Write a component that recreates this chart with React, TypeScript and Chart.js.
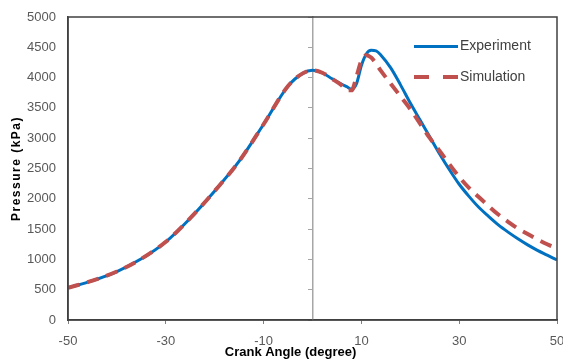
import React, { useEffect, useRef } from 'react';
import { Chart, registerables } from 'chart.js';

Chart.register(...registerables);

const angles = [-50, -45, -40, -35, -30, -25, -20, -15, -10, -5, -2, 0, 2, 4, 6, 7, 8, 9, 10, 11, 12, 13, 14, 16, 18, 20, 22, 24, 26, 28, 30, 32, 34, 36, 38, 40, 42, 44, 46, 48, 50];
const experiment = [530, 650, 800, 1010, 1290, 1680, 2130, 2620, 3230, 3860, 4070, 4120, 4080, 3980, 3890, 3850, 3810, 3900, 4200, 4390, 4450, 4440, 4370, 4160, 3880, 3580, 3300, 3020, 2740, 2480, 2240, 2040, 1860, 1710, 1570, 1450, 1340, 1240, 1150, 1070, 990];
const simulation = [530, 650, 800, 1010, 1290, 1680, 2130, 2620, 3230, 3860, 4070, 4120, 4080, 3980, 3870, 3790, 3790, 4020, 4280, 4370, 4330, 4230, 4110, 3900, 3690, 3480, 3240, 3000, 2790, 2570, 2360, 2180, 2030, 1880, 1740, 1620, 1510, 1420, 1330, 1250, 1180];
const xTickValues = [-50, -30, -10, 10, 30, 50];
const seriesNames = ['Experiment', 'Simulation'];
const xTitle = 'Crank Angle (degree)';
const yTitle = 'Pressure (kPa)';

const FONT = "'Liberation Sans', Arial, sans-serif";

const framePlugin = {
  id: 'frame',
  afterDatasetsDraw(chart: any) {
    const { ctx, chartArea: ca } = chart;
    ctx.save();
    ctx.strokeStyle = '#404040';
    ctx.lineWidth = 1.5;
    ctx.strokeRect(ca.left, ca.top, ca.right - ca.left, ca.bottom - ca.top);
    ctx.restore();
  },
};

const legendPlugin = {
  id: 'customLegend',
  afterDraw(chart: any) {
    const { ctx, chartArea: ca } = chart;
    const ds = chart.data.datasets;
    const rows = [46.5, 77];
    ctx.save();
    ds.forEach((d: any, i: number) => {
      const y = rows[i];
      ctx.beginPath();
      ctx.strokeStyle = d.borderColor;
      ctx.lineWidth = d.borderWidth;
      ctx.setLineDash(i === 1 ? [15, 14] : []);
      ctx.moveTo(414, y);
      ctx.lineTo(458, y);
      ctx.stroke();
      ctx.setLineDash([]);
      ctx.fillStyle = '#404040';
      ctx.font = `14px ${FONT}`;
      ctx.textBaseline = 'middle';
      ctx.textAlign = 'left';
      ctx.fillText(d.label, 460, y);
    });
    ctx.fillStyle = '#000000';
    ctx.font = `bold 13px ${FONT}`;
    ctx.textAlign = 'center';
    ctx.textBaseline = 'middle';
    ctx.fillText(xTitle, 290.5, 352.5);
    ctx.save();
    ctx.translate(17, (ca.top + ca.bottom) / 2);
    ctx.rotate(-Math.PI / 2);
    ctx.font = `bold 12px ${FONT}`;
    (ctx as any).letterSpacing = '1.5px';
    ctx.textAlign = 'center';
    ctx.textBaseline = 'middle';
    ctx.fillText(yTitle, 0, 0);
    ctx.restore();
    ctx.restore();
  },
};

export default function App() {
  const ref = useRef<HTMLCanvasElement | null>(null);

  useEffect(() => {
    if (!ref.current) return;
    const chart = new Chart(ref.current, {
      type: 'line',
      data: {
        datasets: [
          {
            label: seriesNames[0],
            data: angles.map((a, i) => ({ x: a, y: experiment[i] })),
            borderColor: '#0070C0',
            borderWidth: 3,
            pointRadius: 0,
            cubicInterpolationMode: 'monotone',
            fill: false,
            order: 2,
          },
          {
            label: seriesNames[1],
            data: angles.map((a, i) => ({ x: a, y: simulation[i] })),
            borderColor: '#C0504D',
            borderWidth: 4,
            borderDash: [12, 8],
            pointRadius: 0,
            cubicInterpolationMode: 'monotone',
            fill: false,
            order: 1,
          },
        ],
      },
      options: {
        animation: false,
        responsive: false,
        layout: { padding: { top: 17, right: 6, bottom: 0, left: 0 } },
        plugins: {
          legend: { display: false },
          tooltip: { enabled: false },
        },
        scales: {
          x: {
            type: 'linear',
            min: -50,
            max: 50,
            afterBuildTicks: (s: any) => {
              s.ticks = xTickValues.map((v) => ({ value: v }));
            },
            afterFit: (s: any) => {
              s.height = 40;
              s.paddingLeft = 0;
              s.paddingRight = 0;
            },
            grid: { drawOnChartArea: false, drawTicks: true, tickLength: 4, color: '#808080' },
            border: { color: '#404040', width: 1.5 },
            ticks: {
              color: '#595959',
              font: { family: FONT, size: 13 },
              padding: 10,
              maxRotation: 0,
              autoSkip: false,
              callback: (v: any) => String(v),
            },
          },
          y: {
            type: 'linear',
            min: 0,
            max: 5000,
            afterFit: (s: any) => {
              s.width = 68;
              s.paddingTop = 0;
              s.paddingBottom = 0;
            },
            grid: { drawOnChartArea: false, drawTicks: false },
            border: { color: '#404040', width: 1.5 },
            ticks: {
              stepSize: 500,
              color: '#595959',
              font: { family: FONT, size: 13 },
              padding: 12,
              callback: (v: any) => String(v),
            },
          },
          y2: {
            type: 'linear',
            axis: 'y',
            position: { x: 0 } as any,
            min: 0,
            max: 5000,
            grid: { drawOnChartArea: false, drawTicks: true, tickLength: 4, color: '#a6a6a6' },
            border: { color: '#a6a6a6', width: 1.5 },
            ticks: { display: false, stepSize: 500 },
          },
        },
      } as any,
      plugins: [framePlugin, legendPlugin],
    });
    return () => chart.destroy();
  }, []);

  return (
    <div style={{ position: 'fixed', left: 0, top: 0, width: 563, height: 360, background: '#ffffff' }}>
      <canvas ref={ref} width={563} height={360} />
    </div>
  );
}
